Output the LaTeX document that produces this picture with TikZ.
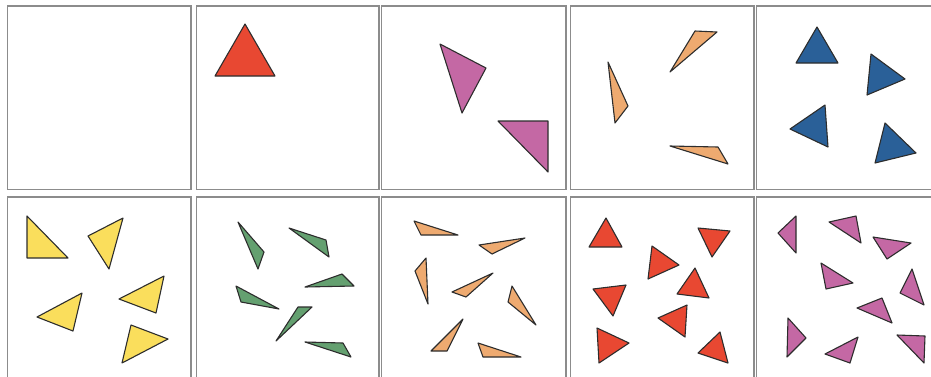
\documentclass[tikz,border=0pt]{standalone}
\definecolor{frame}{RGB}{140,140,140}
\definecolor{cred}{RGB}{232,72,50}
\definecolor{cpurple}{RGB}{196,104,164}
\definecolor{corange}{RGB}{238,170,112}
\definecolor{cblue}{RGB}{42,96,152}
\definecolor{cyellow}{RGB}{250,222,92}
\definecolor{cgreen}{RGB}{100,160,112}
\definecolor{edge}{RGB}{45,45,45}
\tikzset{
  panel/.style={draw=frame,line width=1.8pt},
  tri/.style={draw=edge,line width=1.1pt,line join=round},
}
\newcommand{\tr}[4]{\draw[tri,fill=#1] #2 -- #3 -- #4 -- cycle;}
\begin{document}
\begin{tikzpicture}[x=1pt,y=-1pt]
\useasboundingbox (0,0) rectangle (931,376);
\begin{scope}
\clip (0,0) rectangle (931,376);
% panels
\foreach \x/\w in {7.5/183.5,196.5/182.5,381.5/184.5,570.5/183.5,756.5/190}{
  \draw[panel] (\x,6) rectangle ++(\w,183.5);
  \draw[panel] (\x,197) rectangle ++(\w,190);
}
% row 1 panel 2
\tr{cred}{(245,24)}{(215,76)}{(275,76)}
% row 1 panel 3
\tr{cpurple}{(440,44)}{(486,68)}{(462,113)}
\tr{cpurple}{(498,121)}{(548,121)}{(548,172)}
% row 1 panel 4
\tr{corange}{(695,31)}{(717,32)}{(670,72)}
\tr{corange}{(608,62)}{(628,106)}{(615,123)}
\tr{corange}{(670,146)}{(718,147)}{(728,164)}
% row 1 panel 5
\tr{cblue}{(817,27)}{(796,63)}{(838,63)}
\tr{cblue}{(871,54)}{(905,79)}{(867,95)}
\tr{cblue}{(825,105)}{(790,129)}{(828,147)}
\tr{cblue}{(885,123)}{(916,153)}{(875,163)}
% row 2 panel 1
\tr{cyellow}{(27,216)}{(27,258)}{(68,258)}
\tr{cyellow}{(88,236)}{(123,218)}{(109,269)}
\tr{cyellow}{(82,293)}{(37,317)}{(73,331)}
\tr{cyellow}{(164,276)}{(119,299)}{(156,313)}
\tr{cyellow}{(131,325)}{(168,339)}{(122,363)}
% row 2 panel 2
\tr{cgreen}{(238,222)}{(264,252)}{(258,269)}
\tr{cgreen}{(289,228)}{(326,240)}{(329,257)}
\tr{cgreen}{(342,274)}{(354,286)}{(305,287)}
\tr{cgreen}{(236,286)}{(279,309)}{(241,302)}
\tr{cgreen}{(312,307)}{(298,307)}{(276,341)}
\tr{cgreen}{(305,342)}{(343,343)}{(351,357)}
% row 2 panel 3
\tr{corange}{(414,221)}{(458,235)}{(421,235)}
\tr{corange}{(479,245)}{(525,238)}{(492,254)}
\tr{corange}{(426,258)}{(415,271)}{(428,304)}
\tr{corange}{(493,273)}{(452,292)}{(466,297)}
\tr{corange}{(512,286)}{(536,325)}{(508,302)}
\tr{corange}{(463,319)}{(431,351)}{(447,351)}
\tr{corange}{(478,343)}{(521,357)}{(483,357)}
% row 2 panel 4
\tr{cred}{(606,218)}{(589,247)}{(622,247)}
\tr{cred}{(698,228)}{(730,231)}{(712,257)}
\tr{cred}{(652,246)}{(679,265)}{(648,279)}
\tr{cred}{(695,268)}{(709,298)}{(677,294)}
\tr{cred}{(593,289)}{(626,285)}{(613,316)}
\tr{cred}{(687,305)}{(658,318)}{(685,337)}
\tr{cred}{(597,328)}{(629,343)}{(599,363)}
\tr{cred}{(720,332)}{(728,363)}{(698,353)}
% row 2 panel 5
\tr{cpurple}{(796,216)}{(778,233)}{(796,253)}
\tr{cpurple}{(829,222)}{(856,216)}{(861,243)}
\tr{cpurple}{(873,237)}{(911,243)}{(887,259)}
\tr{cpurple}{(821,263)}{(853,283)}{(826,289)}
\tr{cpurple}{(912,269)}{(900,293)}{(924,305)}
\tr{cpurple}{(857,308)}{(882,298)}{(892,323)}
\tr{cpurple}{(788,318)}{(806,338)}{(787,357)}
\tr{cpurple}{(825,354)}{(858,337)}{(850,363)}
\tr{cpurple}{(897,335)}{(925,336)}{(924,363)}
\end{scope}
\end{tikzpicture}
\end{document}
